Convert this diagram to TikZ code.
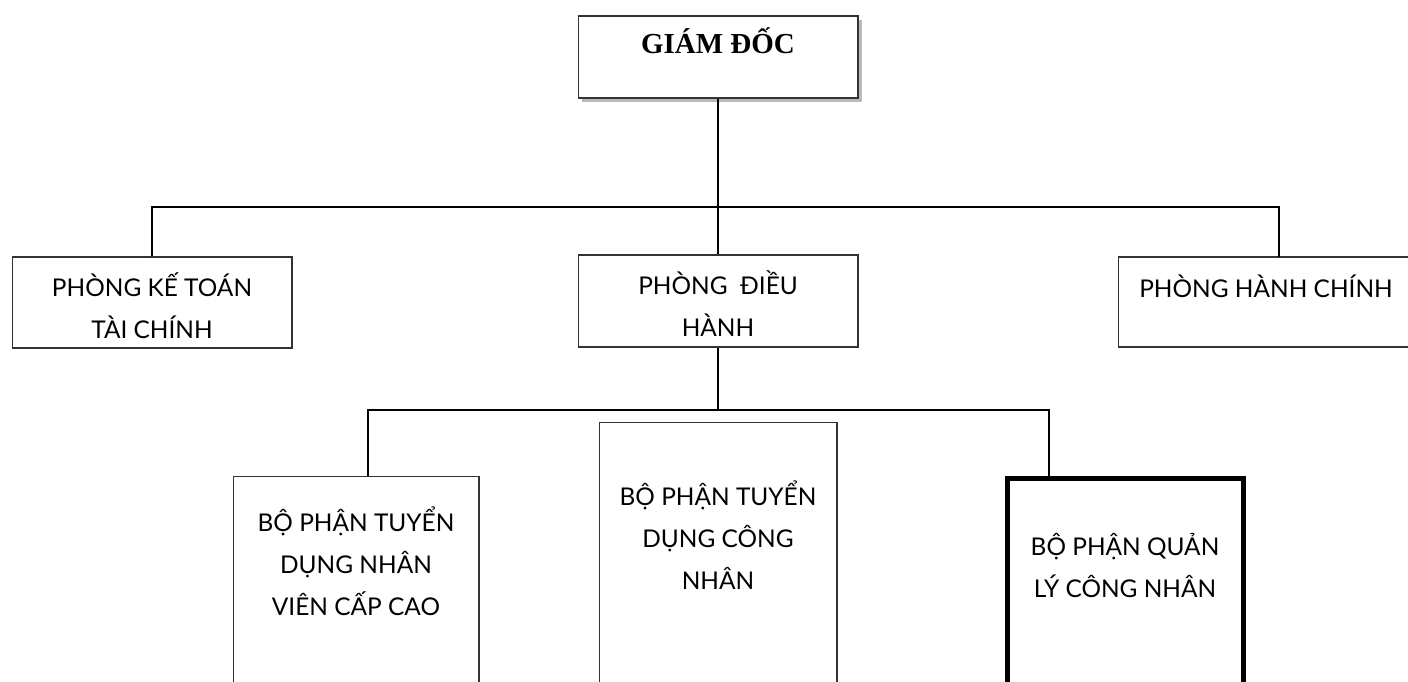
\documentclass[tikz,border=0pt]{standalone}
\usepackage{fontspec}
\setmainfont{Lato}
\newfontfamily\timesfont{Liberation Serif}
\usetikzlibrary{shadows}

\begin{document}
\begin{tikzpicture}[x=0.02cm,y=-0.02cm,
    hop/.style={draw=black!80,line width=0.6pt,inner sep=0pt},
    chu/.style={font=\fontsize{13.9}{23.8}\selectfont,align=center,anchor=base,inner sep=0pt},
    noi/.style={line width=1pt}]
    \useasboundingbox (0,0) rectangle (1408,682);
    \clip (0,0) rectangle (1408,682);

    \node[hop,minimum width=5.6cm,minimum height=1.64cm,fill=white,
        drop shadow={shadow xshift=2.5pt,shadow yshift=-2.5pt,fill=black!45,opacity=0.6}] (giamdoc) at (718,57) {};
    \node[hop,minimum width=5.6cm,minimum height=1.82cm] (ketoan) at (152,302.5) {};
    \node[hop,minimum width=5.6cm,minimum height=1.84cm] (dieuhanh) at (718,301) {};
    \node[hop,minimum width=6.24cm,minimum height=1.8cm] (hanhchinh) at (1274,302) {};
    \node[hop,minimum width=4.92cm,minimum height=4.88cm] (tdcaocap) at (356,598) {};
    \node[hop,minimum width=4.76cm,minimum height=5.96cm] (tdcongnhan) at (718,571) {};
    \node[hop,draw=black,line width=2.8pt,minimum width=4.72cm,minimum height=4.83cm] (qlcongnhan) at (1125.5,599.5) {};

    \node[font=\timesfont\bfseries\fontsize{16.5}{19}\selectfont,anchor=base,inner sep=0pt] (giamdoc-t) at (718,54) {GIÁM ĐỐC};
    \node[chu] (ketoan-t) at (152,338) {PHÒNG KẾ TOÁN\\TÀI CHÍNH};
    \node[chu] (dieuhanh-t) at (718,336) {PHÒNG~ ĐIỀU\\HÀNH};
    \node[chu] (hanhchinh-t) at (1266,297) {PHÒNG HÀNH CHÍNH};
    \node[chu] (tdcaocap-t) at (356,615) {BỘ PHẬN TUYỂN\\DỤNG NHÂN\\VIÊN CẤP CAO};
    \node[chu] (tdcongnhan-t) at (718,589) {BỘ PHẬN TUYỂN\\DỤNG CÔNG\\NHÂN};
    \node[chu] (qlcongnhan-t) at (1125,597) {BỘ PHẬN QUẢN\\LÝ CÔNG NHÂN};

    \coordinate (tren) at (718,207);
    \coordinate (hcvao) at (1279,257);
    \coordinate (duoi) at (718,410);
    \coordinate (bp1vao) at (368,476);
    \coordinate (bp3vao) at (1049,476);

    \draw[noi] (giamdoc.south) -- (dieuhanh.north);
    \draw[noi] (ketoan.north) |- (tren) -| (hcvao);
    \draw[noi] (dieuhanh.south) -- (duoi);
    \draw[noi] (bp1vao) |- (duoi) -| (bp3vao);
\end{tikzpicture}
\end{document}
